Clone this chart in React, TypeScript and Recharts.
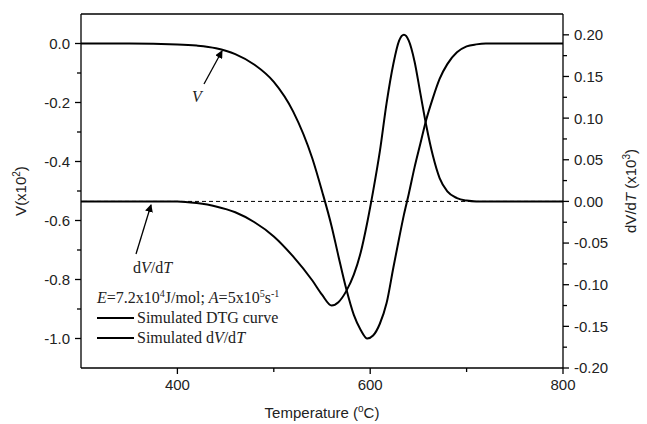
import { LineChart, Line, XAxis, YAxis, ReferenceLine } from 'recharts';

// temperature grid (°C)
const TEMPS = [
  300, 350, 400, 420, 440, 460, 480, 500, 520, 540, 550, 560, 567, 575, 583, 590, 597, 603, 610,
  617, 624, 630, 635, 640, 646, 652, 658, 665, 672, 680, 690, 700, 710, 720, 750, 800,
];

// Simulated DTG curve, V (x10^2)
const DTG = [
  0, 0, -0.003, -0.007, -0.016, -0.036, -0.072, -0.13, -0.23, -0.39, -0.5, -0.62, -0.72, -0.83,
  -0.92, -0.97, -1.0, -0.99, -0.95, -0.88, -0.76, -0.66, -0.58, -0.51, -0.42, -0.34, -0.26, -0.185,
  -0.12, -0.07, -0.03, -0.01, -0.003, 0, 0, 0,
];

// Simulated dV/dT (x10^3)
const DVDT = [
  0, 0, 0, -0.002, -0.006, -0.013, -0.025, -0.042, -0.066, -0.095, -0.112, -0.125, -0.121, -0.108,
  -0.088, -0.062, -0.025, 0.012, 0.06, 0.118, 0.165, 0.193, 0.2, 0.193, 0.168, 0.13, 0.092, 0.055,
  0.028, 0.012, 0.004, 0.001, 0, 0, 0, 0,
];

const X_MAJOR = [400, 600, 800];
const X_MINOR = [500, 700];
const LEFT_MAJOR = [0, -0.2, -0.4, -0.6, -0.8, -1.0];
const LEFT_MINOR = [-0.1, -0.3, -0.5, -0.7, -0.9];
const RIGHT_MAJOR = [0.2, 0.15, 0.1, 0.05, 0, -0.05, -0.1, -0.15, -0.2];
const RIGHT_MINOR = [0.175, 0.125, 0.075, 0.025, -0.025, -0.075, -0.125, -0.175];

const data = TEMPS.map((T, i) => ({ T, dtg: DTG[i], dvdt: DVDT[i] }));

const byValue = (a: number, b: number) => a - b;
const SANS = '"Liberation Sans", Arial, sans-serif';
const SERIF = '"Liberation Serif", "Times New Roman", serif';
const TICK_SIZE = 6;
const TICK_MARGIN = 5;
const AXIS_W = 1.3;

const XTick = (p: any) => {
  const v = p.payload.value;
  const major = X_MAJOR.includes(v);
  const axisY = p.y - TICK_SIZE - TICK_MARGIN;
  return (
    <g>
      <line x1={p.x} x2={p.x} y1={axisY} y2={axisY + (major ? 6 : 4)} stroke="#000" strokeWidth={AXIS_W} />
      {major && (
        <text x={p.x} y={p.y} dy="0.75em" textAnchor="middle" fontFamily={SANS} fontSize={15} fill="#222">
          {v}
        </text>
      )}
    </g>
  );
};

const LeftTick = (p: any) => {
  const v = p.payload.value;
  const major = LEFT_MAJOR.includes(v);
  const axisX = p.x + TICK_SIZE + TICK_MARGIN;
  return (
    <g>
      <line x1={axisX} x2={axisX - (major ? 6 : 4)} y1={p.y} y2={p.y} stroke="#000" strokeWidth={AXIS_W} />
      {major && (
        <text x={p.x} y={p.y} dy="0.36em" textAnchor="end" fontFamily={SANS} fontSize={15} fill="#222">
          {v.toFixed(1)}
        </text>
      )}
    </g>
  );
};

const RightTick = (p: any) => {
  const v = p.payload.value;
  const major = RIGHT_MAJOR.includes(v);
  const axisX = p.x - TICK_SIZE - TICK_MARGIN;
  return (
    <g>
      <line x1={axisX} x2={axisX + (major ? 6 : 4)} y1={p.y} y2={p.y} stroke="#000" strokeWidth={AXIS_W} />
      {major && (
        <text x={p.x} y={p.y} dy="0.36em" textAnchor="start" fontFamily={SANS} fontSize={15} fill="#222">
          {v.toFixed(2)}
        </text>
      )}
    </g>
  );
};

export default function App() {
  return (
    <div style={{ position: 'absolute', left: 0, top: 0, width: 647, height: 424, background: '#fff' }}>
      <LineChart width={647} height={424} data={data} margin={{ top: 14, right: 24, bottom: 26, left: 21 }}>
        <XAxis
          dataKey="T"
          type="number"
          domain={[300, 800]}
          allowDataOverflow
          ticks={[...X_MAJOR, ...X_MINOR].sort(byValue)}
          interval={0}
          tickLine={false}
          tickSize={TICK_SIZE}
          tickMargin={TICK_MARGIN}
          tick={(p: any) => <XTick {...p} />}
          axisLine={{ stroke: '#000', strokeWidth: AXIS_W }}
          height={30}
        />
        <YAxis
          yAxisId="left"
          type="number"
          domain={[-1.1, 0.1]}
          allowDataOverflow
          ticks={[...LEFT_MAJOR, ...LEFT_MINOR].sort(byValue)}
          interval={0}
          tickLine={false}
          tickSize={TICK_SIZE}
          tickMargin={TICK_MARGIN}
          tick={(p: any) => <LeftTick {...p} />}
          axisLine={{ stroke: '#000', strokeWidth: AXIS_W }}
          width={60}
        />
        <YAxis
          yAxisId="right"
          orientation="right"
          type="number"
          domain={[-0.2, 0.225]}
          allowDataOverflow
          ticks={[...RIGHT_MAJOR, ...RIGHT_MINOR].sort(byValue)}
          interval={0}
          tickLine={false}
          tickSize={TICK_SIZE}
          tickMargin={TICK_MARGIN}
          tick={(p: any) => <RightTick {...p} />}
          axisLine={{ stroke: '#000', strokeWidth: AXIS_W }}
          width={60}
        />
        {/* top frame */}
        <ReferenceLine yAxisId="left" y={0.1} stroke="#000" strokeWidth={AXIS_W} />
        <ReferenceLine yAxisId="right" y={0} stroke="#000" strokeWidth={1} strokeDasharray="4 3" />
        <Line
          yAxisId="left"
          dataKey="dtg"
          type="monotone"
          stroke="#000"
          strokeWidth={2}
          dot={false}
          isAnimationActive={false}
        />
        <Line
          yAxisId="right"
          dataKey="dvdt"
          type="monotone"
          stroke="#000"
          strokeWidth={2}
          dot={false}
          isAnimationActive={false}
        />
      </LineChart>

      {/* titles, legend and annotations */}
      <svg
        width={647}
        height={424}
        style={{ position: 'absolute', left: 0, top: 0, pointerEvents: 'none' }}
      >
        <defs>
          <marker id="arrow" markerWidth="8" markerHeight="8" refX="7" refY="4" orient="auto" markerUnits="userSpaceOnUse">
            <path d="M0,0 L8,4 L0,8 Z" fill="#000" />
          </marker>
        </defs>

        <text x={322} y={418} textAnchor="middle" fontFamily={SANS} fontSize={15} fill="#222">
          Temperature (<tspan dy={-6} fontSize={10}>o</tspan>
          <tspan dy={6}>C)</tspan>
        </text>

        <text transform="translate(26,191) rotate(-90)" textAnchor="middle" fontFamily={SANS} fontSize={15} fill="#222">
          V(x10<tspan dy={-6} fontSize={10}>2</tspan>
          <tspan dy={6}>)</tspan>
        </text>

        <text transform="translate(636,191) rotate(-90)" textAnchor="middle" fontFamily={SANS} fontSize={15} fill="#222">
          dV/d<tspan fontStyle="italic">T</tspan> (x10<tspan dy={-6} fontSize={10}>3</tspan>
          <tspan dy={6}>)</tspan>
        </text>

        <g fontFamily={SERIF} fontSize={16} fill="#222">
          <text x={97} y={303}>
            <tspan fontStyle="italic">E</tspan>=7.2x10<tspan dy={-6} fontSize={10}>4</tspan>
            <tspan dy={6}>J/mol; </tspan>
            <tspan fontStyle="italic">A</tspan>=5x10<tspan dy={-6} fontSize={10}>5</tspan>
            <tspan dy={6}>s</tspan>
            <tspan dy={-6} fontSize={10}>-1</tspan>
          </text>
          <line x1={97} x2={134} y1={318} y2={318} stroke="#000" strokeWidth={2} />
          <text x={137} y={323}>Simulated DTG curve</text>
          <line x1={97} x2={134} y1={338} y2={338} stroke="#000" strokeWidth={2} />
          <text x={137} y={343}>
            Simulated d<tspan fontStyle="italic">V</tspan>/d<tspan fontStyle="italic">T</tspan>
          </text>

          <text x={192} y={102} fontStyle="italic">V</text>
          <line x1={204} y1={84} x2={222} y2={51} stroke="#000" strokeWidth={1.3} markerEnd="url(#arrow)" />

          <text x={133} y={273}>
            d<tspan fontStyle="italic">V</tspan>/d<tspan fontStyle="italic">T</tspan>
          </text>
          <line x1={136} y1={254} x2={151} y2={205} stroke="#000" strokeWidth={1.3} markerEnd="url(#arrow)" />
        </g>
      </svg>
    </div>
  );
}
